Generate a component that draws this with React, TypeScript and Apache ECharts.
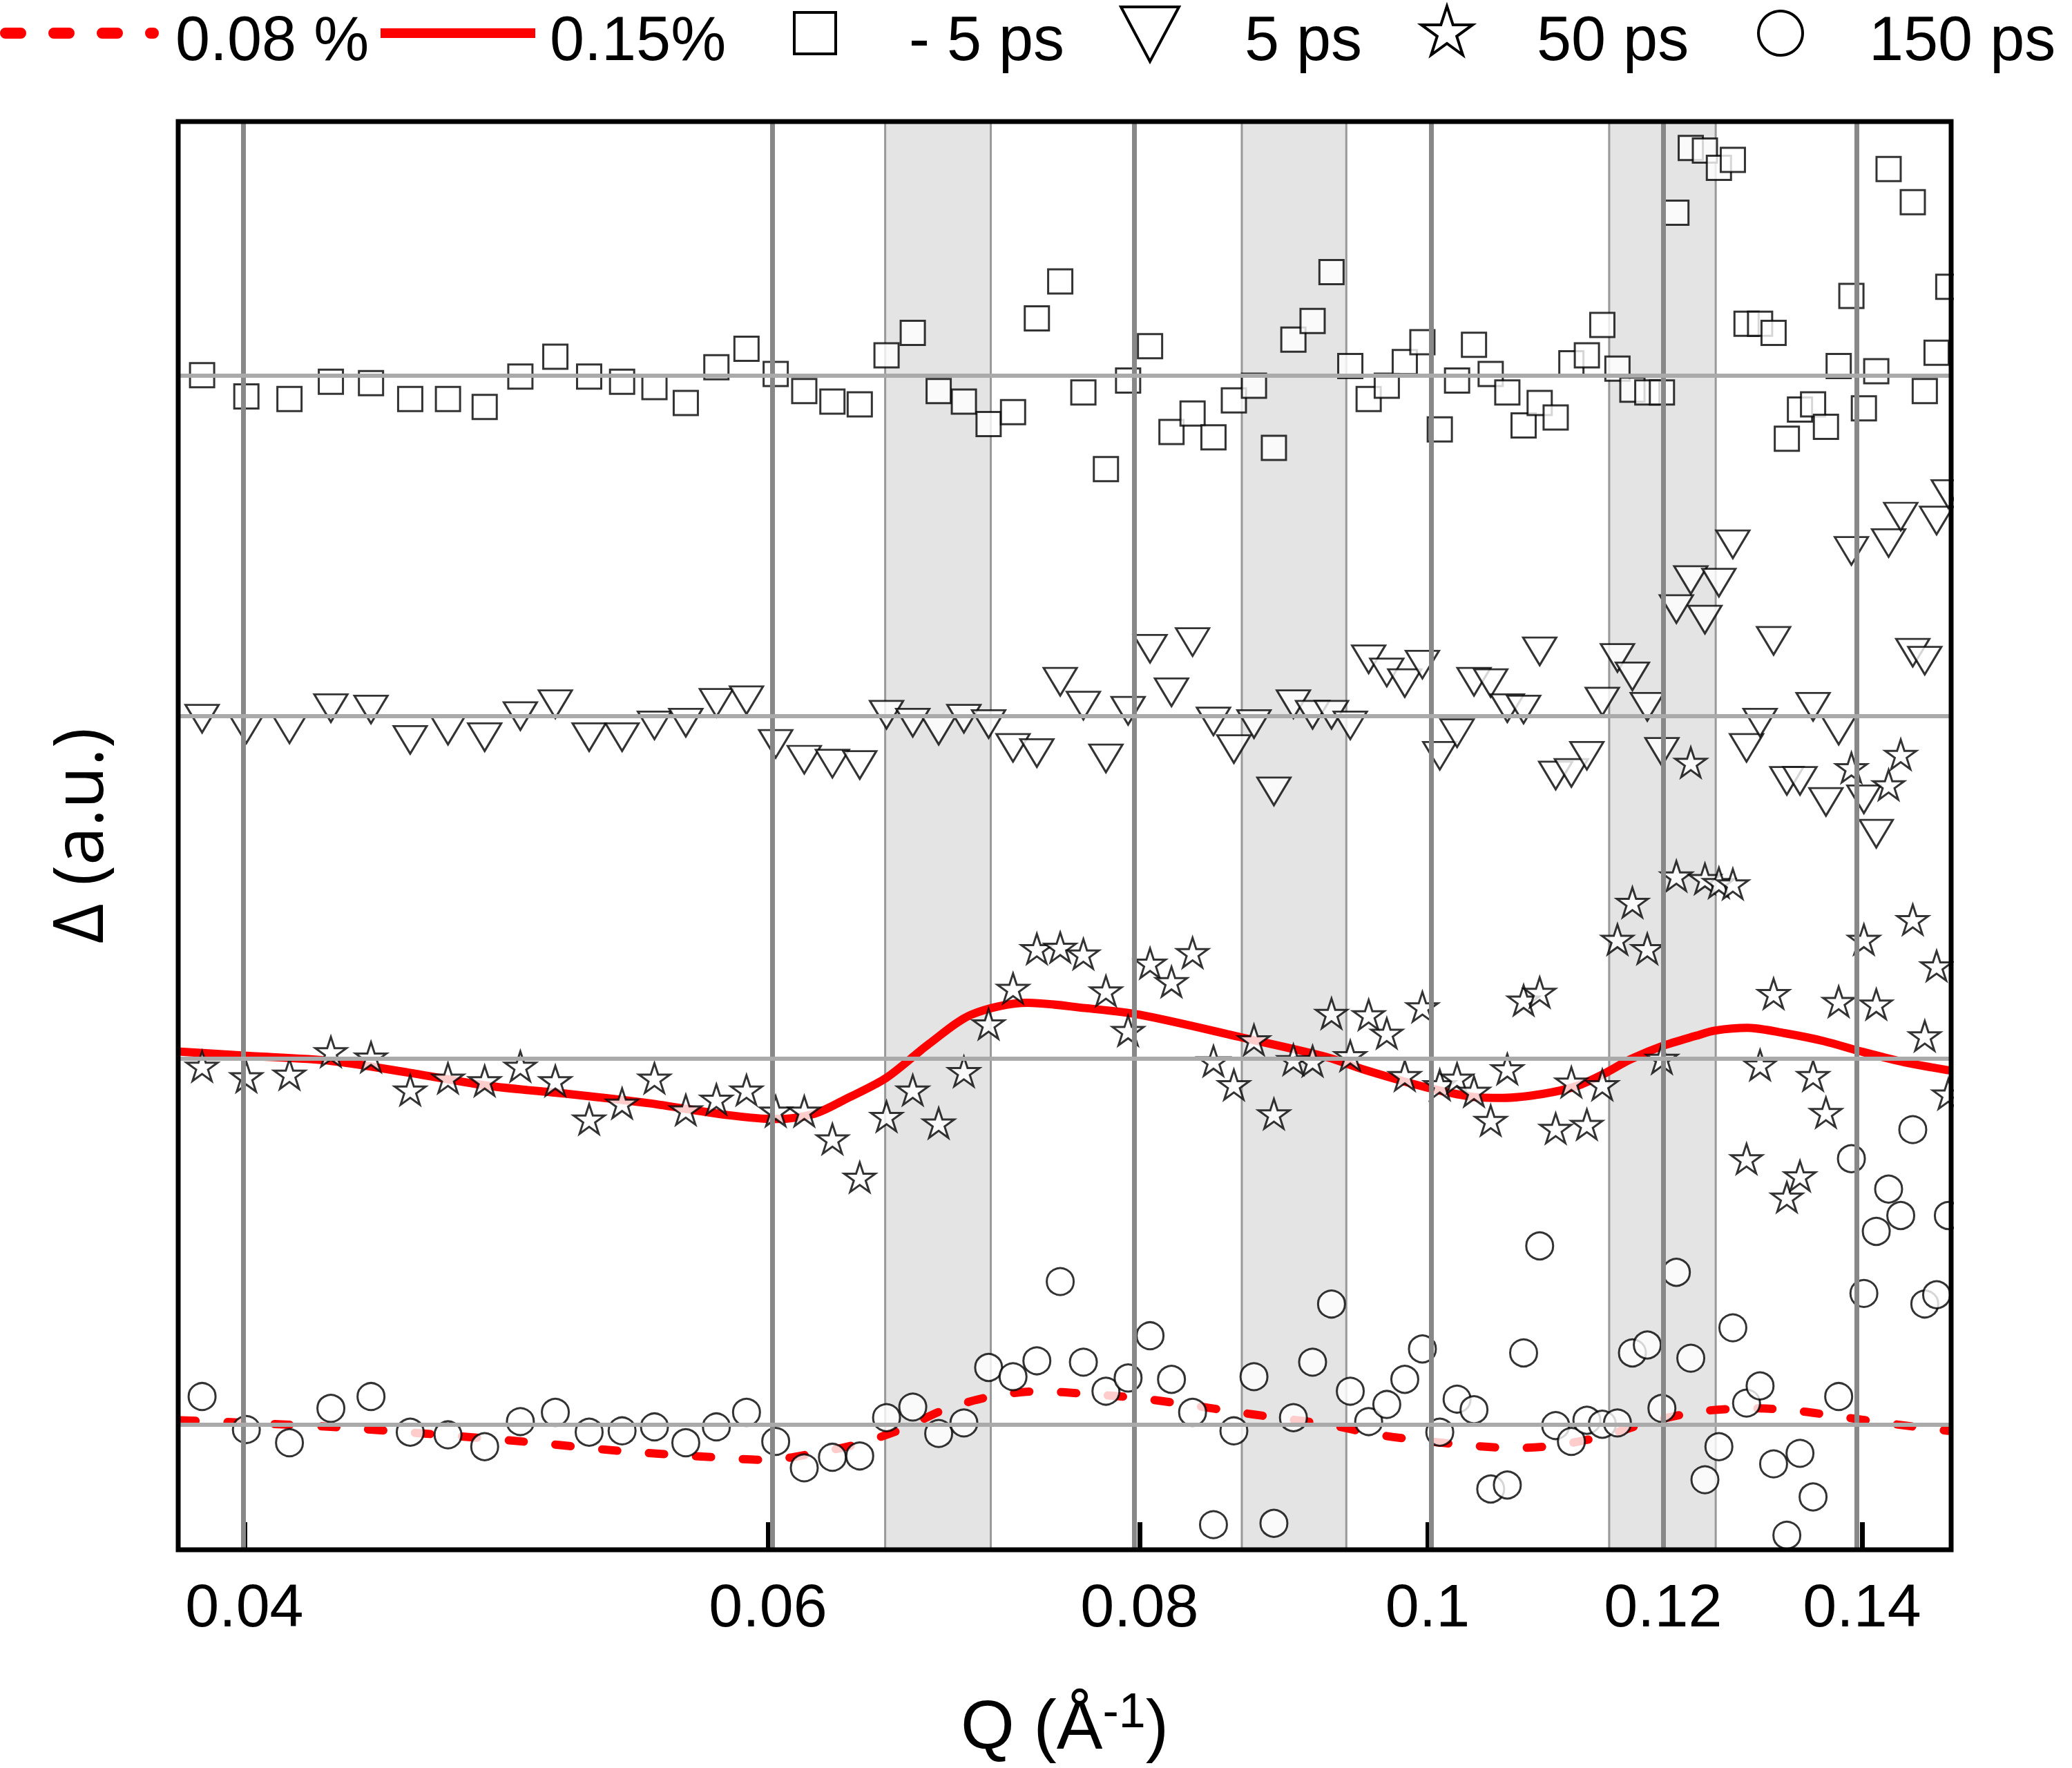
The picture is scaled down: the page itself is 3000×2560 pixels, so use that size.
import React, { useEffect, useRef } from "react";
import * as echarts from "echarts";

// Shared Q grid (Å^-1) of the measured points
const Q = [
  0.03871, 0.04006, 0.04142, 0.04277, 0.04412, 0.04548, 0.04683, 0.04818, 0.04953, 0.05089,
  0.05224, 0.05359, 0.05495, 0.0563, 0.05765, 0.05901, 0.06036, 0.06171, 0.06307, 0.06442,
  0.06577, 0.06712, 0.06848, 0.06983, 0.07118, 0.07254, 0.07389, 0.07524, 0.0766, 0.07795,
  0.0793, 0.08066, 0.08201, 0.08336, 0.08472, 0.08607, 0.08742, 0.08878, 0.09013, 0.09148,
  0.09283, 0.09419, 0.09554, 0.09689, 0.09825, 0.0996, 0.10095, 0.10231, 0.10366, 0.10501,
  0.10637, 0.10772, 0.10907, 0.11043, 0.11178, 0.11313, 0.11449, 0.11584, 0.11719, 0.11855,
  0.1199, 0.12125, 0.12261, 0.12396, 0.12531, 0.12667, 0.12802, 0.12937, 0.13073, 0.13208,
  0.13343, 0.13479, 0.13614, 0.13749, 0.13885, 0.1402, 0.14155, 0.14291, 0.14426, 0.14561,
  0.14697, 0.14832, 0.14967,
];

const minus5ps = [
  8.88, 8.72, 8.7, 8.83, 8.82, 8.7, 8.7, 8.64, 8.87, 9.02,
  8.87, 8.83, 8.79, 8.67, 8.94, 9.08, 8.89, 8.76, 8.68, 8.66,
  9.03, 9.2, 8.76, 8.68, 8.51, 8.6, 9.31, 9.59, 8.75, 8.17,
  8.84, 9.1, 8.45, 8.59, 8.41, 8.69, 8.8, 8.33, 9.15, 9.29,
  9.66, 8.95, 8.7, 8.8, 8.98, 9.13, 8.47, 8.84, 9.11, 8.89,
  8.75, 8.5, 8.67, 8.56, 8.97, 9.03, 9.26, 8.93, 8.77, 8.75,
  8.75, 10.11, 10.6, 10.58, 10.45, 10.51, 9.27, 9.27, 9.2, 8.4,
  8.62, 8.66, 8.49, 8.95, 9.48, 8.63, 8.91, 10.44, null, 10.19,
  8.76, 9.05, 9.55,
];

const ps5 = [
  6.28, 6.2, 6.2, 6.36, 6.35, 6.12, 6.19, 6.14, 6.3, 6.39,
  6.14, 6.14, 6.23, 6.25, 6.4, 6.42, 6.09, 5.97, 5.94, 5.93,
  6.31, 6.25, 6.19, 6.28, 6.24, 6.06, 6.02, 6.56, 6.38, 5.98,
  6.34, 6.81, 6.48, 6.86, 6.26, 6.05, 6.24, 5.73, 6.39, 6.31,
  6.31, 6.23, 6.73, 6.63, 6.55, 6.69, 6.0, 6.17, 6.56, 6.55,
  6.36, 6.35, 6.79, 5.85, 5.87, 6.0, 6.41, 6.74, 6.6, 6.37,
  6.03, 7.11, 7.33, 7.03, 7.31, 7.6, 6.06, 6.25, 6.87, 5.81,
  5.81, 6.37, 5.65, 6.19, 7.55, 5.67, 5.41, 7.61, 7.81, 6.78,
  6.72, 7.78, 7.98,
];

const ps50 = [
  3.65, 3.57, 3.59, 3.76, 3.72, 3.47, 3.56, 3.54, 3.65, 3.54,
  3.25, 3.37, 3.56, 3.32, 3.4, 3.47, 3.31, 3.31, 3.1, 2.81,
  3.27, 3.47, 3.22, 3.61, 3.97, 4.24, 4.54, 4.55, 4.5, 4.22,
  3.92, 4.43, 4.29, 4.51, 3.69, 3.51, 3.85, 3.29, 3.7, 3.69,
  4.05, 3.73, 4.04, 3.9, 3.58, 4.1, 3.51, 3.56, 3.46, 3.24,
  3.63, 4.15, 4.21, 3.18, 3.53, 3.21, 3.51, 4.61, 4.89, 4.54,
  3.71, 5.09, 5.95, 5.07, 5.04, 5.03, 2.95, 3.66, 4.2, 2.66,
  2.82, 3.58, 3.3, 4.14, 5.91, 4.61, 4.12, 5.78, 6.01, 4.76,
  3.88, 4.41, 3.44,
];

const ps150 = [
  1.15, 0.9, 0.8, 1.06, 1.15, 0.88, 0.86, 0.77, 0.96, 1.03,
  0.88, 0.89, 0.92, 0.8, 0.92, 1.03, 0.81, 0.61, 0.69, 0.7,
  0.99, 1.07, 0.87, 0.95, 1.37, 1.3, 1.42, 2.02, 1.41, 1.19,
  1.29, 1.61, 1.28, 1.03, 0.18, 0.89, 1.3, 0.19, 0.99, 1.41,
  1.85, 1.19, 0.96, 1.09, 1.28, 1.51, 0.88, 1.13, 1.05, 0.45,
  0.48, 1.48, 2.29, 0.93, 0.81, 0.97, 0.94, 0.95, 1.48, 1.54,
  1.06, 2.09, 1.44, 0.52, 0.77, 1.67, 1.1, 1.23, 0.64, 0.1,
  0.72, 0.39, null, 1.15, 2.95, 1.93, 2.4, 2.72, 2.52, 3.17,
  1.85, 1.92, 2.52,
];

// Fit curves
const fit015Q = [
  0.03807, 0.04, 0.04278, 0.04546, 0.04837, 0.0514, 0.0547, 0.05816, 0.06035, 0.06219,
  0.06371, 0.06574, 0.06798, 0.07023, 0.07334, 0.0767, 0.07998, 0.08651, 0.09246, 0.09531,
  0.0999, 0.10344, 0.106, 0.10931, 0.11226, 0.11458, 0.11696, 0.11986, 0.1231, 0.12497,
  0.12814, 0.13185, 0.13591, 0.13997, 0.14467, 0.14964,
];
const fit015V = [
  3.76, 3.73, 3.69, 3.6, 3.5, 3.44, 3.37, 3.28, 3.25, 3.29,
  3.4, 3.56, 3.82, 4.04, 4.13, 4.09, 4.04, 3.87, 3.72, 3.62,
  3.49, 3.42, 3.41, 3.44, 3.5, 3.59, 3.7, 3.8, 3.88, 3.92,
  3.94, 3.9, 3.84, 3.76, 3.68, 3.62,
];
const fit008Q = [
  0.03807, 0.04278, 0.04958, 0.05337, 0.05754, 0.05996, 0.06218, 0.0643, 0.0665, 0.06877,
  0.07132, 0.07407, 0.07671, 0.07976, 0.08296, 0.08579, 0.08897, 0.09247, 0.09628, 0.09929,
  0.10322, 0.1071, 0.11044, 0.11458, 0.1189, 0.12386, 0.1293, 0.13329, 0.13837, 0.14364,
  0.14964,
];
const fit008V = [
  0.97, 0.92, 0.81, 0.74, 0.69, 0.67, 0.72, 0.79, 0.9, 1.05,
  1.15, 1.19, 1.17, 1.14, 1.09, 1.04, 0.99, 0.94, 0.86, 0.82,
  0.78, 0.76, 0.78, 0.85, 0.96, 1.04, 1.06, 1.04, 0.99, 0.94,
  0.89,
];

// Axis / reference values
const xTicks = [0.04, 0.06, 0.08, 0.1, 0.12, 0.14];
const baselines = [8.88, 6.3, 3.71, 0.94];
const bands = [
  [0.0657, 0.0713],
  [0.0866, 0.0939],
  [0.1151, 0.125],
];
const Q_MIN = 0.038;
const Q_MAX = 0.15;
const Y_MIN = -0.01;
const Y_MAX = 10.8;

const legendLabels = ["0.08 %", "0.15%", "- 5 ps", "5 ps", "50 ps", "150 ps"];

const FONT = '"Liberation Sans", Arial, sans-serif';
const STAR =
  "path://M50 0 L61.23 34.55 L97.55 34.55 L68.17 55.9 L79.39 90.45 L50 69.1 L20.61 90.45 L31.83 55.9 L2.45 34.55 L38.77 34.55 Z";

const GRID = { left: 258, top: 176, width: 2567, height: 2068 };

function starPoints(cx: number, cy: number, R: number) {
  const pts: number[][] = [];
  for (let i = 0; i < 10; i++) {
    const r = i % 2 === 0 ? R : R * 0.382;
    const a = -Math.PI / 2 + (i * Math.PI) / 5;
    pts.push([cx + r * Math.cos(a), cy + r * Math.sin(a)]);
  }
  return pts;
}

function pairs(qs: number[], vs: (number | null)[]) {
  const out: number[][] = [];
  qs.forEach((q, i) => {
    const v = vs[i];
    if (v !== null && v !== undefined) out.push([Math.log(q), v]);
  });
  return out;
}

export default function App() {
  const ref = useRef<HTMLDivElement>(null);

  useEffect(() => {
    if (!ref.current) return;
    const chart = echarts.init(ref.current, undefined, { renderer: "svg" });
    const tickLn = xTicks.map((q) => Math.log(q));
    const markerStyle = { color: "#ffffff", borderColor: "#000000", borderWidth: 3 };
    const LEG_Y = 48;
    const legendText = (text: string, x: number) => ({
      type: "text",
      x,
      y: 56,
      z: 120,
      silent: true,
      style: {
        text,
        fontSize: 90,
        fontFamily: FONT,
        fill: "#000",
        align: "left",
        verticalAlign: "middle",
      },
    });

    const option: any = {
      animation: false,
      backgroundColor: "#ffffff",
      grid: {
        left: GRID.left,
        top: GRID.top,
        width: GRID.width,
        height: GRID.height,
        containLabel: false,
        outerBoundsMode: "none",
        show: false,
      },
      xAxis: {
        type: "value",
        min: Math.log(Q_MIN),
        max: Math.log(Q_MAX),
        z: 4,
        axisLine: { show: false },
        axisTick: {
          show: true,
          inside: true,
          length: 38,
          customValues: tickLn,
          lineStyle: { color: "#000", width: 7 },
        },
        axisLabel: {
          show: true,
          customValues: tickLn,
          formatter: (v: number) => String(Math.round(Math.exp(v) * 100) / 100),
          fontSize: 88,
          fontFamily: FONT,
          color: "#000",
          margin: 36,
        },
        splitLine: { show: false },
        name: "{q|Q (Å}{sup|-1}{q|)}",
        nameLocation: "middle",
        nameGap: 198,
        nameTextStyle: {
          color: "#000",
          rich: {
            q: { fontSize: 100, fontFamily: FONT, color: "#000", lineHeight: 110 },
            sup: {
              fontSize: 70,
              fontFamily: FONT,
              color: "#000",
              lineHeight: 60,
              verticalAlign: "top",
            },
          },
        },
      },
      yAxis: {
        type: "value",
        min: Y_MIN,
        max: Y_MAX,
        axisLine: { show: false },
        axisTick: { show: false },
        axisLabel: { show: false },
        splitLine: { show: false },
        name: "Δ (a.u.)",
        nameLocation: "middle",
        nameRotate: 90,
        nameGap: 98,
        nameTextStyle: { fontSize: 100, fontFamily: '"Open Sans", sans-serif', color: "#000" },
      },
      series: [
        {
          name: "grid",
          type: "line",
          data: [],
          z: 1,
          silent: true,
          markLine: {
            silent: true,
            symbol: "none",
            label: { show: false },
            animation: false,
            data: [
              ...xTicks.map((q) => ({
                xAxis: Math.log(q),
                lineStyle: { color: "#888888", width: 7, type: "solid" },
              })),
              ...baselines.map((v) => ({
                yAxis: v,
                lineStyle: { color: "#aaaaaa", width: 6, type: "solid" },
              })),
            ],
          },
        },
        {
          name: "0.08 %",
          type: "line",
          z: 2,
          silent: true,
          showSymbol: false,
          smooth: 0.3,
          data: pairs(fit008Q, fit008V),
          lineStyle: { color: "#ff0000", width: 12, type: [22, 46], cap: "round" },
        },
        {
          name: "0.15%",
          type: "line",
          z: 2,
          silent: true,
          showSymbol: false,
          smooth: 0.3,
          data: pairs(fit015Q, fit015V),
          lineStyle: { color: "#ff0000", width: 12, cap: "round" },
        },
        {
          name: "- 5 ps",
          type: "scatter",
          z: 3,
          silent: true,
          symbol: "rect",
          symbolSize: 35,
          itemStyle: markerStyle,
          data: pairs(Q, minus5ps),
        },
        {
          name: "5 ps",
          type: "scatter",
          z: 3,
          silent: true,
          symbol: "triangle",
          symbolRotate: 180,
          symbolSize: [48, 40],
          itemStyle: markerStyle,
          data: pairs(Q, ps5),
        },
        {
          name: "50 ps",
          type: "scatter",
          z: 3,
          silent: true,
          symbol: STAR,
          symbolKeepAspect: true,
          symbolSize: 45,
          itemStyle: markerStyle,
          data: pairs(Q, ps50),
        },
        {
          name: "150 ps",
          type: "scatter",
          z: 3,
          silent: true,
          symbol: "circle",
          symbolSize: 39,
          itemStyle: markerStyle,
          data: pairs(Q, ps150),
        },
        {
          name: "bands",
          type: "line",
          data: [],
          z: 5,
          silent: true,
          markArea: {
            silent: true,
            itemStyle: {
              color: "rgba(202,202,202,0.5)",
              borderColor: "#999999",
              borderWidth: 3,
            },
            data: bands.map(([a, b]) => [{ xAxis: Math.log(a) }, { xAxis: Math.log(b) }]),
          },
        },
      ],
      graphic: {
        elements: [
          {
            type: "rect",
            z: 90,
            silent: true,
            shape: { x: GRID.left + GRID.width + 4, y: 140, width: 200, height: 2140 },
            style: { fill: "#ffffff" },
          },
          {
            type: "rect",
            z: 100,
            silent: true,
            shape: { x: GRID.left, y: GRID.top, width: GRID.width, height: GRID.height },
            style: { fill: "none", stroke: "#000000", lineWidth: 7 },
          },
          // legend
          {
            type: "line",
            z: 120,
            silent: true,
            shape: { x1: 8, y1: LEG_Y, x2: 222, y2: LEG_Y },
            style: { stroke: "#ff0000", lineWidth: 16, lineDash: [22, 48], lineCap: "round" },
          },
          legendText(legendLabels[0], 254),
          {
            type: "line",
            z: 120,
            silent: true,
            shape: { x1: 551, y1: LEG_Y, x2: 775, y2: LEG_Y },
            style: { stroke: "#ff0000", lineWidth: 14 },
          },
          legendText(legendLabels[1], 796),
          {
            type: "rect",
            z: 120,
            silent: true,
            shape: { x: 1150, y: LEG_Y - 30, width: 60, height: 60 },
            style: { fill: "#ffffff", stroke: "#000000", lineWidth: 4 },
          },
          legendText(legendLabels[2], 1316),
          {
            type: "polygon",
            z: 120,
            silent: true,
            shape: {
              points: [
                [1623, LEG_Y - 38],
                [1707, LEG_Y - 38],
                [1665, LEG_Y + 41],
              ],
            },
            style: { fill: "#ffffff", stroke: "#000000", lineWidth: 4 },
          },
          legendText(legendLabels[3], 1802),
          {
            type: "polygon",
            z: 120,
            silent: true,
            shape: { points: starPoints(2095, LEG_Y, 39) },
            style: { fill: "#ffffff", stroke: "#000000", lineWidth: 4 },
          },
          legendText(legendLabels[4], 2225),
          {
            type: "circle",
            z: 120,
            silent: true,
            shape: { cx: 2578, cy: LEG_Y, r: 32 },
            style: { fill: "#ffffff", stroke: "#000000", lineWidth: 4 },
          },
          legendText(legendLabels[5], 2706),
        ],
      },
    };

    chart.setOption(option);
    return () => {
      chart.dispose();
    };
  }, []);

  return (
    <div
      ref={ref}
      style={{ position: "absolute", left: 0, top: 0, width: 3000, height: 2560, background: "#fff" }}
    />
  );
}
